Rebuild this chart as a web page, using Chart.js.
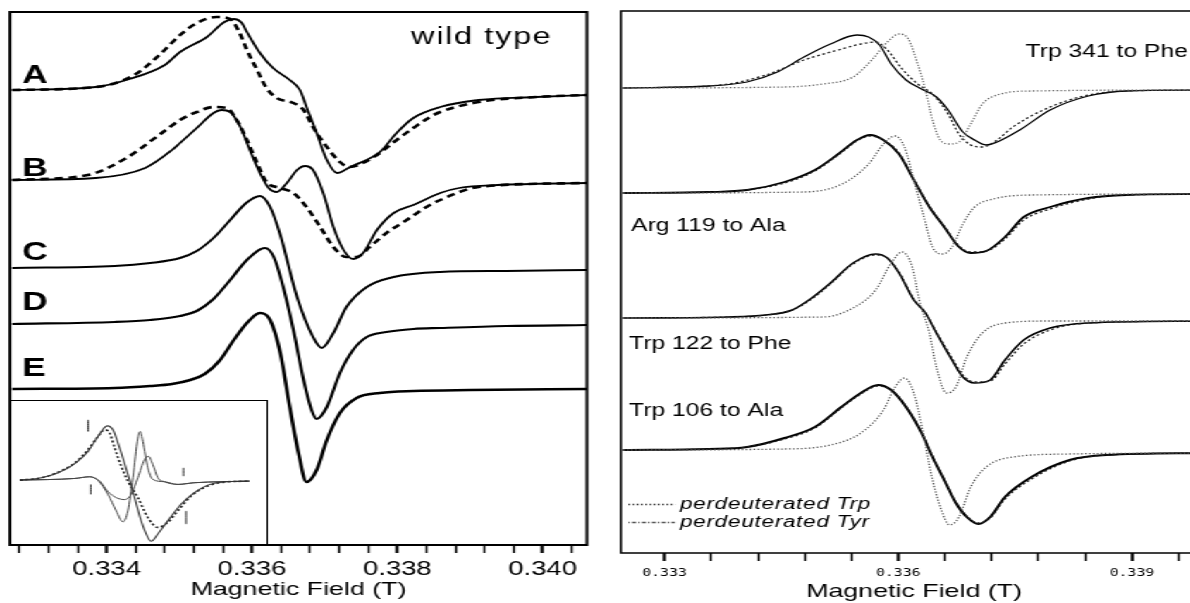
<!DOCTYPE html>
<html>
<head>
<meta charset="utf-8">
<title>EPR spectra</title>
<script src="https://cdn.jsdelivr.net/npm/chart.js@4/dist/chart.umd.min.js"></script>
<style>
  html, body { margin: 0; padding: 0; background: #fff; overflow: hidden; width: 1190px; height: 603px; }
  /* the original figure is stretched horizontally, so the panels are scaled the same way */
  .stretch { position: absolute; top: 0; height: 603px; transform-origin: 0 0; transform: scaleX(1.41); }
  #leftWrap { left: 0; width: 426px; }
  #rightWrap { left: 600px; width: 447px; }
  #insetBox { position: absolute; left: 7.1px; top: 400px; width: 183px; height: 145px; box-sizing: border-box;
              border: 1px solid #000; background: #fff; }
</style>
</head>
<body>
<div id="leftWrap" class="stretch">
  <canvas id="leftChart" width="426" height="603"></canvas>
  <div id="insetBox"><canvas id="insetChart" width="181" height="143"></canvas></div>
</div>
<div id="rightWrap" class="stretch">
  <canvas id="rightChart" width="447" height="603"></canvas>
</div>
<script>
const FONT = "'Liberation Sans', Arial, sans-serif";

// ---------- left panel: wild type and simulations (field in T, signal in arb. units) ----------
const leftTickValues = [0.3328, 0.3332, 0.3336, 0.334, 0.3344, 0.3348, 0.3352, 0.3356, 0.336, 0.3364,
  0.3368, 0.3372, 0.3376, 0.338, 0.3384, 0.3388, 0.3392, 0.3396, 0.340, 0.3404];
const leftMajorTicks = [0.334, 0.336, 0.338, 0.340];
const leftMajorLabels = ['0.334', '0.336', '0.338', '0.340'];

const traceLetters = ['A', 'B', 'C', 'D', 'E'];
const traceOffsets = [455, 365, 277, 221, 156];
const letterLevels = [469, 376, 292, 242, 176];

const fieldA = [0.33270, 0.33385, 0.33427, 0.33480, 0.33501, 0.33538, 0.33562, 0.33575, 0.33586, 0.33593, 0.33611,
  0.33629, 0.33652, 0.33666, 0.33675, 0.33689, 0.33703, 0.33717, 0.33735, 0.33776, 0.33799, 0.33822, 0.33859,
  0.33912, 0.33991, 0.34061];
const signalA = [0, 3, 10, 25, 38, 53, 68, 71, 67, 58, 37, 22, 10, 0, -17, -43, -70, -83, -77, -62, -43, -28, -17,
  -10, -7, -5];
const fieldAsim = [0.33270, 0.33385, 0.33438, 0.33474, 0.33501, 0.33524, 0.33551, 0.33570, 0.33581, 0.33593, 0.33607,
  0.33620, 0.33634, 0.33657, 0.33671, 0.33684, 0.33703, 0.33721, 0.33733, 0.33753, 0.33776, 0.33799, 0.33822,
  0.33845, 0.33859, 0.33912, 0.33991, 0.34061];
const signalAsim = [0, 3, 15, 36, 55, 67, 73, 71, 60, 40, 20, 2, -8, -13, -20, -37, -57, -72, -77, -73, -63, -50,
  -38, -27, -22, -12, -7, -5];

const fieldB = [0.33270, 0.33385, 0.33453, 0.33490, 0.33501, 0.33524, 0.33547, 0.33558, 0.33570, 0.33584, 0.33597,
  0.33611, 0.33623, 0.33634, 0.33648, 0.33662, 0.33673, 0.33684, 0.33698, 0.33712, 0.33726, 0.33739, 0.33753,
  0.33772, 0.33795, 0.33822, 0.33859, 0.33885, 0.33938, 0.34061];
const signalB = [0, 2, 12, 30, 37, 52, 67, 70, 68, 53, 30, 7, -8, -12, -3, 10, 14, 10, -13, -47, -70, -79, -73,
  -50, -33, -25, -13, -8, -5, -3];
const fieldBsim = [0.33270, 0.33374, 0.33427, 0.33474, 0.33501, 0.33524, 0.33547, 0.33565, 0.33579, 0.33593, 0.33607,
  0.33620, 0.33639, 0.33657, 0.33675, 0.33694, 0.33712, 0.33730, 0.33744, 0.33762, 0.33785, 0.33813, 0.33840,
  0.33859, 0.33912, 0.34061];
const signalBsim = [0, 5, 22, 46, 60, 68, 73, 72, 60, 40, 17, -2, -8, -13, -27, -47, -67, -77, -77, -67, -53, -40,
  -27, -20, -7, -3];

const fieldC = [0.33270, 0.33411, 0.33460, 0.33501, 0.33524, 0.33547, 0.33570, 0.33592, 0.33611, 0.33625, 0.33639,
  0.33662, 0.33684, 0.33696, 0.33712, 0.33730, 0.33758, 0.33795, 0.33859, 0.33950, 0.34061];
const signalC = [0, 2, 5, 10, 17, 30, 48, 65, 72, 61, 33, -29, -69, -80, -65, -39, -19, -9, -4, -3, -2];

const fieldD = [0.33270, 0.33411, 0.33460, 0.33501, 0.33524, 0.33547, 0.33570, 0.33593, 0.33618, 0.33630, 0.33643,
  0.33657, 0.33671, 0.33682, 0.33689, 0.33703, 0.33721, 0.33739, 0.33758, 0.33785, 0.33822, 0.33859, 0.33950, 0.34061];
const signalD = [0, 2, 4, 8, 13, 25, 44, 64, 76, 67, 37, -6, -56, -86, -95, -83, -49, -26, -13, -8, -5, -4, -2, -1];

const fieldE = [0.33270, 0.33411, 0.33460, 0.33490, 0.33515, 0.33535, 0.33555, 0.33575, 0.33593, 0.33611, 0.33625,
  0.33639, 0.33652, 0.33664, 0.33675, 0.33689, 0.33703, 0.33721, 0.33744, 0.33776, 0.33822, 0.33900, 0.34061];
const signalE = [0, 1, 3, 5, 9, 15, 28, 49, 66, 76, 69, 36, -18, -64, -93, -81, -51, -24, -9, -4, -2, -1, 0];

// ---------- inset (arbitrary units) ----------
const insetBroadX = [8.7, 30.3, 47, 63.7, 77, 87, 96.3, 102, 108.7, 117, 123.7, 130.3, 137, 140.3, 147, 157, 170.3,
  183.7, 197, 213.7, 238.7];
const insetBroadY = [0, 2.4, 7.4, 16.7, 29, 44, 54.7, 50.7, 32.4, 5.7, -17.6, -41, -57.6, -61.6, -54.3, -41, -24.3,
  -12.6, -5, -1.6, -1];
const insetDottedX = [8.7, 30.3, 47, 63.7, 77, 87, 93.7, 98.7, 103.7, 110.3, 117, 127, 137, 147, 157, 167, 180.3, 197,
  213.7, 238.7];
const insetDottedY = [0, 2.4, 8, 17.4, 30.7, 44, 50.7, 47.4, 32.4, 14, -1, -17.6, -37.6, -47.6, -42.6, -31, -16, -6,
  -2, -1];
const insetNarrowAX = [8.7, 63.7, 78.7, 87, 97, 105.3, 112, 117, 122, 127, 129.3, 132, 137, 142, 153.7, 167, 183.7,
  238.7];
const insetNarrowAY = [0, 1.7, 3.4, -0.3, -14.3, -31, -42, -31, 2.4, 42.4, 49, 39, 12.4, 0.7, -1.6, -4.3, -2.6, -1];
const insetNarrowBX = [8.7, 63.7, 78.7, 88.7, 97, 105.3, 113.7, 120.3, 127, 133.7, 137.7, 142, 147, 153.7, 167,
  183.7, 238.7];
const insetNarrowBY = [0, 1.7, 3.4, -1, -11.6, -17.6, -19.6, -14.3, 2.4, 20.7, 24, 15.7, 2.4, -1.6, -4.3, -2.6, -1];
const arrowX = [77, 79.7, 172.7, 175.3];
const arrowTop = [60.7, -4.3, 12.4, -31];
const arrowBottom = [49, -14.3, 4, -44.3];

// ---------- right panel: mutants ----------
const rightTickValues = [0.333, 0.3336, 0.3342, 0.3348, 0.3354, 0.336, 0.3366, 0.3372, 0.3378, 0.3384, 0.339, 0.3396];
const rightMajorTicks = [0.333, 0.336, 0.339];
const rightMajorLabels = ['0.333', '0.336', '0.339'];

const mutantNames = ['Trp 341 to Phe', 'Arg 119 to Ala', 'Trp 122 to Phe', 'Trp 106 to Ala'];
const mutantOffsets = [465, 360, 235, 103];
const mutantLabelX = [0.337635, 0.332571, 0.332545, 0.332545];
const mutantLabelY = [500.7, 326.7, 209, 141.7];

const field1 = [0.33247, 0.33357, 0.33406, 0.33445, 0.33479, 0.33513, 0.33547, 0.33562, 0.33576, 0.33591, 0.33610,
  0.33630, 0.33649, 0.33664, 0.33683, 0.33698, 0.33713, 0.33727, 0.33756, 0.33795, 0.33844, 0.33893, 0.33996];
const signal1 = [0, 2, 6, 16, 31, 44, 53, 51, 43, 24, 8, -1, -9, -22, -44, -52, -57, -54, -42, -22, -8, -3, -2];
const field1Trp = [0.33247, 0.33372, 0.33430, 0.33479, 0.33523, 0.33552, 0.33571, 0.33586, 0.33605, 0.33625, 0.33644,
  0.33664, 0.33678, 0.33693, 0.33708, 0.33727, 0.33747, 0.33795, 0.33844, 0.33893, 0.33996];
const signal1Trp = [0, 3, 13, 28, 38, 44, 46, 38, 19, 4, -6, -26, -46, -57, -59, -52, -39, -19, -7, -3, -2];
const field1Tyr = [0.33247, 0.33454, 0.33503, 0.33542, 0.33566, 0.33586, 0.33601, 0.33613, 0.33625, 0.33635, 0.33644,
  0.33654, 0.33666, 0.33678, 0.33693, 0.33708, 0.33727, 0.33771, 0.33996];
const signal1Tyr = [0, 1, 4, 11, 28, 46, 54, 49, 24, -2, -32, -52, -56, -54, -36, -16, -7, -3, -2];

const field2 = [0.33247, 0.33357, 0.33406, 0.33454, 0.33493, 0.33523, 0.33547, 0.33564, 0.33581, 0.33601, 0.33620,
  0.33640, 0.33659, 0.33678, 0.33693, 0.33713, 0.33737, 0.33761, 0.33795, 0.33844, 0.33893, 0.33996];
const signal2 = [0, 1, 3, 11, 23, 39, 53, 58, 53, 39, 13, -14, -34, -54, -60, -58, -44, -24, -14, -5, -2, -1];
const signal2Trp = [0, 1, 3, 10, 22, 38, 52, 57, 53, 40, 14, -13, -33, -53, -59, -58, -46, -27, -16, -6, -2, -1];
const field2Tyr = [0.33247, 0.33479, 0.33528, 0.33562, 0.33581, 0.33596, 0.33608, 0.33620, 0.33632, 0.33644, 0.33657,
  0.33669, 0.33683, 0.33698, 0.33722, 0.33771, 0.33996];
const signal2Tyr = [0, 1, 9, 29, 49, 57, 46, 13, -21, -54, -61, -54, -31, -14, -6, -2, -1];

const field3 = [0.33247, 0.33381, 0.33430, 0.33464, 0.33489, 0.33513, 0.33542, 0.33571, 0.33586, 0.33601, 0.33620,
  0.33635, 0.33649, 0.33669, 0.33683, 0.33698, 0.33718, 0.33737, 0.33761, 0.33795, 0.33844, 0.33996];
const signal3 = [0, 1, 3, 8, 20, 35, 55, 64, 60, 45, 18, 5, -15, -42, -59, -65, -62, -42, -22, -10, -5, -3];
const signal3Trp = [0, 1, 3, 8, 19, 34, 54, 63, 60, 46, 19, 5, -14, -40, -57, -64, -63, -46, -26, -12, -5, -3];
const field3Tyr = [0.33247, 0.33503, 0.33542, 0.33571, 0.33591, 0.33605, 0.33618, 0.33627, 0.33640, 0.33649, 0.33662,
  0.33674, 0.33688, 0.33708, 0.33737, 0.33795, 0.33996];
const signal3Tyr = [0, 1, 10, 28, 55, 66, 51, 18, -15, -49, -75, -69, -39, -15, -5, -3, -3];

const field4 = [0.33247, 0.33357, 0.33406, 0.33454, 0.33493, 0.33527, 0.33552, 0.33574, 0.33591, 0.33610, 0.33630,
  0.33644, 0.33659, 0.33674, 0.33688, 0.33703, 0.33718, 0.33737, 0.33771, 0.33820, 0.33868, 0.33996];
const signal4 = [0, 1, 3, 12, 23, 43, 57, 65, 60, 43, 17, -7, -30, -53, -67, -74, -67, -47, -27, -10, -5, -3];
const signal4Trp = [0, 1, 3, 11, 22, 42, 56, 64, 60, 44, 18, -6, -29, -52, -66, -73, -68, -49, -29, -11, -5, -3];
const field4Tyr = [0.33247, 0.33454, 0.33513, 0.33552, 0.33581, 0.33596, 0.33608, 0.33620, 0.33632, 0.33642, 0.33654,
  0.33666, 0.33678, 0.33693, 0.33713, 0.33747, 0.33820, 0.33996];
const signal4Tyr = [0, 1, 5, 17, 40, 63, 72, 57, 17, -23, -57, -75, -67, -37, -17, -7, -4, -3];

const legendNames = ['perdeuterated Trp', 'perdeuterated Tyr'];
const legendLineX = [0.332536, 0.333135];
const legendTextX = 0.333199;
const legendLevels = [48.5, 30.5];

// ---------- helpers ----------
function trace(fields, signals, offset) {
  return fields.map((f, i) => ({ x: f, y: offset + signals[i] }));
}

function line(data, width, dash, color) {
  return {
    data: data, showLine: true, fill: false, pointRadius: 0, borderWidth: width,
    borderColor: color || '#000', borderDash: dash || [], cubicInterpolationMode: 'monotone'
  };
}

function isMajor(value, majors) {
  return majors.some(m => Math.abs(m - value) < 1e-7);
}

function majorLabel(value, majors, labels) {
  const i = majors.findIndex(m => Math.abs(m - value) < 1e-7);
  return i >= 0 ? labels[i] : '';
}

// box round the plot area
const framePlugin = {
  id: 'frame',
  afterDatasetsDraw(chart, args, opts) {
    const { ctx, chartArea: a } = chart;
    ctx.save();
    ctx.strokeStyle = '#000';
    ctx.lineWidth = opts.width || 2;
    ctx.strokeRect(a.left, a.top, a.right - a.left, a.bottom - a.top);
    ctx.restore();
  }
};

// text labels placed in data coordinates
function makeTextPlugin(items) {
  return {
    id: 'labels',
    afterDatasetsDraw(chart) {
      const { ctx, scales: { x, y } } = chart;
      ctx.save();
      ctx.fillStyle = '#000';
      ctx.textAlign = 'left';
      ctx.textBaseline = 'middle';
      items.forEach(t => {
        ctx.font = t.font;
        ctx.letterSpacing = t.spacing || '0px';
        ctx.fillText(t.text, x.getPixelForValue(t.x), y.getPixelForValue(t.y));
      });
      ctx.restore();
    }
  };
}

function xAxis(min, max, tickValues, majors, labels, height, tickFont, tickPad, titleBottom) {
  return {
    type: 'linear', min: min, max: max,
    afterBuildTicks: s => { s.ticks = tickValues.map(v => ({ value: v })); },
    afterFit: s => { s.height = height; },
    border: { display: false },
    grid: {
      drawOnChartArea: false, drawTicks: true, tickLength: 8, tickColor: '#000',
      tickWidth: c => (c.tick && isMajor(c.tick.value, majors)) ? 2.2 : 1.5
    },
    ticks: {
      autoSkip: false, maxRotation: 0, padding: tickPad, color: '#000', font: tickFont,
      callback: v => majorLabel(v, majors, labels)
    },
    title: {
      display: true, text: 'Magnetic Field (T)', color: '#000',
      font: { family: FONT, size: 19 }, padding: { top: 0, bottom: titleBottom }
    }
  };
}

const common = {
  responsive: false, animation: false, events: [],
  plugins: { legend: { display: false }, tooltip: { enabled: false } }
};

// ---------- left chart ----------
const leftTexts = traceLetters.map((t, i) => ({
  text: t, x: 0.33284, y: letterLevels[i], font: 'bold 25px ' + FONT
}));
leftTexts.push({ text: 'wild type', x: 0.33819, y: 507.5, font: '23px ' + FONT, spacing: '1.2px' });

new Chart(document.getElementById('leftChart'), {
  type: 'scatter',
  data: {
    datasets: [
      line(trace(fieldAsim, signalAsim, traceOffsets[0]), 2.6, [6, 4]),
      line(trace(fieldA, signalA, traceOffsets[0]), 1.8),
      line(trace(fieldBsim, signalBsim, traceOffsets[1]), 2.6, [6, 4]),
      line(trace(fieldB, signalB, traceOffsets[1]), 1.8),
      line(trace(fieldC, signalC, traceOffsets[2]), 2),
      line(trace(fieldD, signalD, traceOffsets[3]), 2.2),
      line(trace(fieldE, signalE, traceOffsets[4]), 2.5)
    ]
  },
  options: {
    ...common,
    layout: { padding: { left: 7.1, right: 9.7, top: 12, bottom: 0 } },
    scales: {
      x: xAxis(0.33267, 0.34061, leftTickValues, leftMajorTicks, leftMajorLabels, 58,
        { family: FONT, size: 19.5 }, 5, 2),
      y: { display: false, min: 0, max: 533 }
    },
    plugins: { ...common.plugins, frame: { width: 2 } }
  },
  plugins: [framePlugin, makeTextPlugin(leftTexts)]
});

// ---------- inset ----------
const pairs = (xs, ys) => xs.map((v, i) => ({ x: v, y: ys[i] }));
const arrowSets = arrowX.map((v, i) => line([{ x: v, y: arrowTop[i] }, { x: v, y: arrowBottom[i] }], 1, [], '#222'));

new Chart(document.getElementById('insetChart'), {
  type: 'scatter',
  data: {
    datasets: [
      line(pairs(insetBroadX, insetBroadY), 1.1, [], '#333'),
      line(pairs(insetDottedX, insetDottedY), 1.6, [2, 2], '#222'),
      line(pairs(insetNarrowAX, insetNarrowAY), 1, [], '#444'),
      line(pairs(insetNarrowBX, insetNarrowBY), 1, [], '#444'),
      ...arrowSets
    ]
  },
  options: {
    ...common,
    layout: { padding: 0 },
    scales: {
      x: { display: false, min: 0, max: 256 },
      y: { display: false, min: -64.3, max: 79.7 }
    }
  }
});

// ---------- right chart ----------
const TRP = [2, 2];
const TYR = [1.2, 1.6];
const rightTexts = mutantNames.map((t, i) => ({
  text: t, x: mutantLabelX[i], y: mutantLabelY[i], font: '17.5px ' + FONT
}));
legendNames.forEach((t, i) => rightTexts.push({
  text: t, x: legendTextX, y: legendLevels[i], font: 'italic 16px ' + FONT, spacing: '0.5px'
}));

new Chart(document.getElementById('rightChart'), {
  type: 'scatter',
  data: {
    datasets: [
      line(trace(field1Tyr, signal1Tyr, mutantOffsets[0]), 1.3, TYR, '#666'),
      line(trace(field1Trp, signal1Trp, mutantOffsets[0]), 1.3, TRP, '#222'),
      line(trace(field1, signal1, mutantOffsets[0]), 1.3),
      line(trace(field2Tyr, signal2Tyr, mutantOffsets[1]), 1.3, TYR, '#555'),
      line(trace(field2, signal2Trp, mutantOffsets[1]), 1.3, TRP, '#222'),
      line(trace(field2, signal2, mutantOffsets[1]), 1.8),
      line(trace(field3Tyr, signal3Tyr, mutantOffsets[2]), 1.3, TYR, '#555'),
      line(trace(field3, signal3Trp, mutantOffsets[2]), 1.3, TRP, '#222'),
      line(trace(field3, signal3, mutantOffsets[2]), 1.6),
      line(trace(field4Tyr, signal4Tyr, mutantOffsets[3]), 1.3, TYR, '#555'),
      line(trace(field4, signal4Trp, mutantOffsets[3]), 1.3, TRP, '#222'),
      line(trace(field4, signal4, mutantOffsets[3]), 2),
      line(legendLineX.map(v => ({ x: v, y: legendLevels[0] })), 1.3, [1.2, 1.8], '#222'),
      line(legendLineX.map(v => ({ x: v, y: legendLevels[1] })), 1.3, [1, 1.5, 3, 1.5], '#555')
    ]
  },
  options: {
    ...common,
    layout: { padding: { left: 14.9, right: 16.5, top: 11, bottom: 0 } },
    scales: {
      x: xAxis(0.332442, 0.339964, rightTickValues, rightMajorTicks, rightMajorLabels, 50,
        { family: "'DejaVu Sans Mono', monospace", size: 10.5 }, 6, 0),
      y: { display: false, min: 0, max: 542 }
    },
    plugins: { ...common.plugins, frame: { width: 1.5 } }
  },
  plugins: [framePlugin, makeTextPlugin(rightTexts)]
});
</script>
</body>
</html>
